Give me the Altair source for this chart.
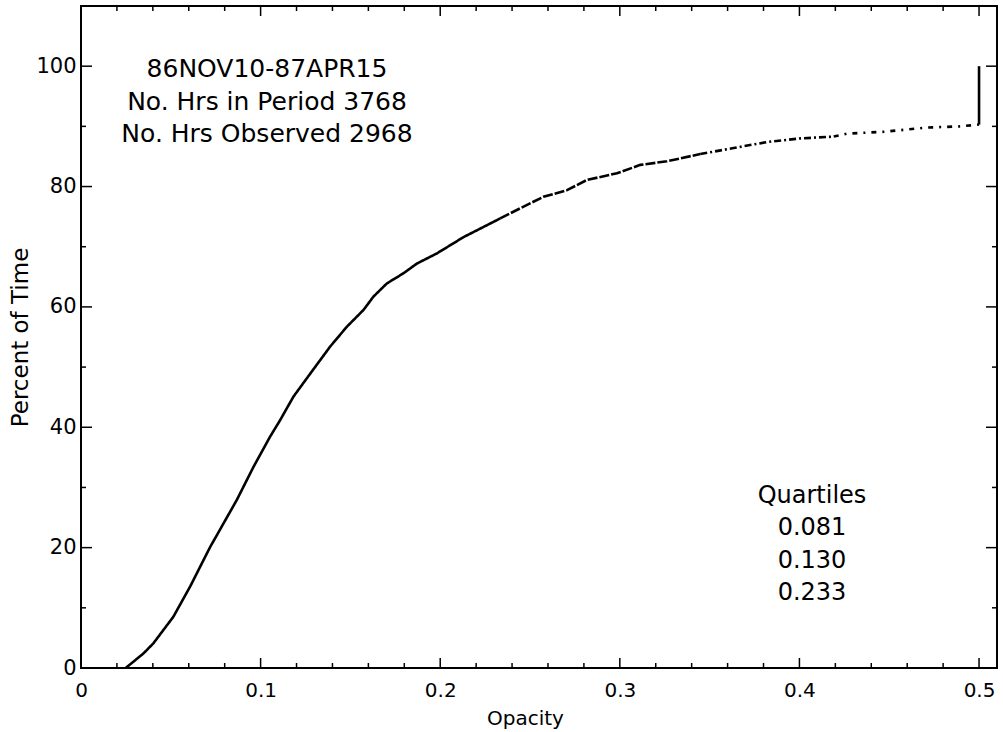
import altair as alt
import pandas as pd

# ---- data ----
opacity = [0.0249, 0.0347, 0.0403, 0.0514, 0.0607, 0.0719, 0.0793, 0.0867, 0.0960, 0.1050,
           0.1109, 0.1183, 0.1276, 0.1387, 0.1480, 0.1573, 0.1628, 0.1703, 0.1796, 0.1870,
           0.1982, 0.2130, 0.2334, 0.2446, 0.2575, 0.2706, 0.2817, 0.2984, 0.3114, 0.3263,
           0.3448, 0.3634, 0.3820, 0.4006, 0.4191, 0.4266, 0.4470, 0.4711, 0.4897, 0.5000]
percent = [0.0, 2.4, 4.1, 8.5, 13.5, 20.1, 24.0, 27.9, 33.4, 38.3,
           41.2, 45.1, 48.9, 53.4, 56.7, 59.5, 61.7, 63.9, 65.6, 67.2,
           68.9, 71.6, 74.7, 76.4, 78.3, 79.4, 81.1, 82.2, 83.6, 84.2,
           85.4, 86.4, 87.4, 88.0, 88.3, 88.8, 89.1, 89.8, 90.0, 90.3]
jump_x = [0.5]
jump_from = [90.3]
jump_to = [100.0]

x_major = [0.1, 0.2, 0.3, 0.4, 0.5]
x_minor = [0.02, 0.04, 0.06, 0.08, 0.12, 0.14, 0.16, 0.18, 0.22, 0.24, 0.26, 0.28,
           0.32, 0.34, 0.36, 0.38, 0.42, 0.44, 0.46, 0.48]
y_major = [20, 40, 60, 80, 100]
y_minor = [10, 30, 50, 70, 90]
x_labels = [0, 0.1, 0.2, 0.3, 0.4, 0.5]
y_labels = [0, 20, 40, 60, 80, 100]

header_lines = ["86NOV10-87APR15", "No. Hrs in Period 3768", "No. Hrs Observed 2968"]
quartile_lines = ["Quartiles", "0.081", "0.130", "0.233"]

# ---- build table; split curve into segments drawn with different dash styles ----
seg_breaks = [0.234, 0.345, 0.42]
seg_names = ["a", "b", "c", "d"]
rows = []
for i, (xv, yv) in enumerate(zip(opacity, percent)):
    s = sum(xv > b for b in seg_breaks)
    rows.append({"opacity": xv, "percent": yv, "seg": seg_names[s]})
    if i + 1 < len(opacity):
        s_next = sum(opacity[i + 1] > b for b in seg_breaks)
        if s_next != s:
            rows.append({"opacity": xv, "percent": yv, "seg": seg_names[s_next]})
curve = pd.DataFrame(rows)

W, H = 916, 662
FONT = "DejaVu Sans"
xs = alt.Scale(domain=[0, 0.51], nice=False, zero=False)
ys = alt.Scale(domain=[0, 110], nice=False, zero=False)

x_axis = alt.Axis(values=x_labels, format=".1~f", ticks=False, grid=False, domain=False,
                  labelFontSize=20, labelPadding=12, labelColor="black",
                  labelFont=FONT, titleFont=FONT, titleFontSize=20,
                  titleFontWeight="normal", titleColor="black", titlePadding=8,
                  titleX=444, labelFlush=False)
y_axis = alt.Axis(values=y_labels, ticks=False, grid=False, domain=False,
                  labelFontSize=21, labelPadding=5, labelColor="black",
                  labelFont=FONT, titleFont=FONT, titleFontSize=23,
                  titleFontWeight="normal", titleColor="black", titlePadding=3,
                  labelFlush=False)
X_TITLE = "Opacity"
Y_TITLE = "Percent of Time"


def X(field):
    return alt.X(field, scale=xs, axis=x_axis, title=X_TITLE)


def Y(field):
    return alt.Y(field, scale=ys, axis=y_axis, title=Y_TITLE)


line = alt.Chart(curve).mark_line(color="black", strokeWidth=2.6, strokeCap="butt").encode(
    x=X("opacity:Q"),
    y=Y("percent:Q"),
    strokeDash=alt.StrokeDash("seg:N", scale=alt.Scale(domain=seg_names,
                              range=[[1, 0], [10, 2], [7, 3, 2, 3], [5, 6, 2, 6]]), legend=None),
    order="opacity:Q",
)

jump = alt.Chart(pd.DataFrame({"x": jump_x, "y1": jump_from, "y2": jump_to})).mark_rule(
    color="black", strokeWidth=2.6).encode(
    x=X("x:Q"), y=Y("y1:Q"), y2="y2:Q",
)


def xticks(vals, length):
    d = pd.DataFrame({"v": vals})
    bottom = alt.Chart(d).mark_rule(color="black", strokeWidth=1.5).encode(
        x=X("v:Q"), y=alt.value(H), y2=alt.value(H - length))
    top = alt.Chart(d).mark_rule(color="black", strokeWidth=1.5).encode(
        x=X("v:Q"), y=alt.value(0), y2=alt.value(length))
    return [bottom, top]


def yticks(vals, length):
    d = pd.DataFrame({"v": vals})
    left = alt.Chart(d).mark_rule(color="black", strokeWidth=1.5).encode(
        y=Y("v:Q"), x=alt.value(0), x2=alt.value(length))
    right = alt.Chart(d).mark_rule(color="black", strokeWidth=1.5).encode(
        y=Y("v:Q"), x=alt.value(W), x2=alt.value(W - length))
    return [left, right]


ticks = xticks(x_major, 10) + xticks(x_minor, 5) + yticks(y_major, 11) + yticks(y_minor, 5)

dummy = pd.DataFrame({"a": [0]})
header = alt.Chart(dummy).mark_text(
    text=header_lines, font=FONT, fontSize=25, lineHeight=32.5, align="center",
    baseline="alphabetic", color="black").encode(x=alt.value(186), y=alt.value(71))
quart = alt.Chart(dummy).mark_text(
    text=quartile_lines, font=FONT, fontSize=24, lineHeight=32.3, align="center",
    baseline="alphabetic", color="black").encode(x=alt.value(731), y=alt.value(497))

chart = alt.layer(line, jump, *ticks, header, quart).properties(
    width=W, height=H,
    background="white",
    autosize=alt.AutoSizeParams(type="none"),
    padding={"left": 81, "top": 6, "right": 6, "bottom": 64},
).configure_view(stroke="black", strokeWidth=2)

chart.save("out.html", embed_options={"renderer": "svg", "actions": False})
